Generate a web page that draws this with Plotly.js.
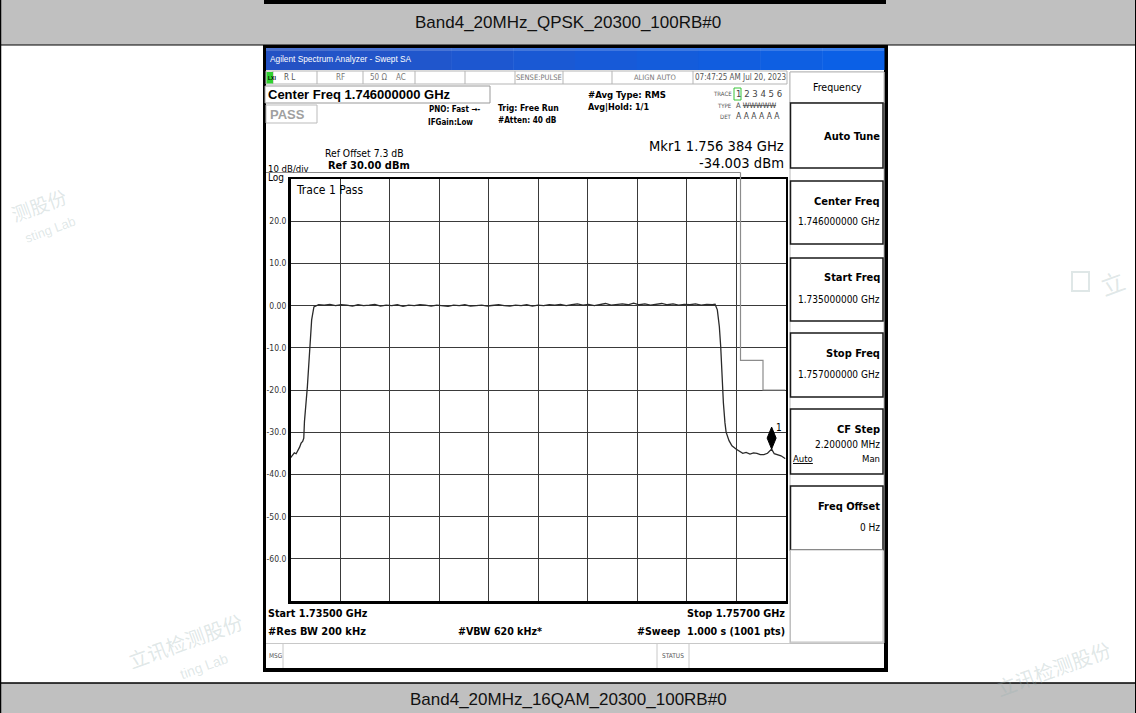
<!DOCTYPE html>
<html><head><meta charset="utf-8">
<script src="https://cdn.plot.ly/plotly-3.0.1.min.js"></script>
<style>html,body{margin:0;padding:0;background:#fff;overflow:hidden}#chart{width:1136px;height:713px}</style>
</head><body><div id="chart"></div>
<script>
const W = 1136, H = 713;

// ---------------- data ----------------
const captionTop = 'Band4_20MHz_QPSK_20300_100RB#0';
const captionBottom = 'Band4_20MHz_16QAM_20300_100RB#0';
const startFreqMHz = 1735, stopFreqMHz = 1757, divMHz = 2.2;
const refLevel = 30, bottomLevel = -70;
const traceFreqMHz = [
  1735.00, 1735.08, 1735.17, 1735.25, 1735.32, 1735.40, 1735.47, 1735.54, 1735.59, 1735.62, 1735.75, 1735.87, 1735.94, 1736.04,
  1736.25, 1736.50, 1736.75, 1737.00, 1737.25, 1737.50, 1737.75, 1738.00, 1738.25, 1738.50,
  1738.75, 1739.00, 1739.25, 1739.50, 1739.75, 1740.00, 1740.25, 1740.50, 1740.75, 1741.00,
  1741.25, 1741.50, 1741.75, 1742.00, 1742.25, 1742.50, 1742.75, 1743.00, 1743.25, 1743.50,
  1743.75, 1744.00, 1744.25, 1744.50, 1744.75, 1745.00, 1745.25, 1745.50, 1745.75, 1746.00,
  1746.25, 1746.50, 1746.75, 1747.00, 1747.25, 1747.50, 1747.75, 1748.00, 1748.25, 1748.50,
  1748.75, 1749.00, 1749.25, 1749.50, 1749.75, 1750.00, 1750.25, 1750.50, 1750.75, 1751.00,
  1751.25, 1751.50, 1751.75, 1752.00, 1752.25, 1752.50, 1752.75, 1753.00, 1753.25, 1753.50,
  1753.75, 1753.87, 1753.97, 1754.06, 1754.12, 1754.18, 1754.24, 1754.31, 1754.36, 1754.49,
  1754.62, 1754.80, 1754.95, 1755.10, 1755.25, 1755.42, 1755.58, 1755.73, 1755.88, 1756.04,
  1756.20, 1756.384, 1756.50, 1756.65, 1756.80, 1757.00
];
const traceLevelDbm = [
  -36.1, -35.4, -34.9, -35.1, -34.5, -33.6, -32.6, -32.2, -31.4, -27.5, -19.2, -9.7, -3.4, -0.3,
  0.2, 0.1, 0.3, 0.0, 0.2, 0.1, -0.1, 0.2, 0.0, 0.1,
  0.3, -0.1, 0.1, 0.0, 0.2, -0.2, 0.1, 0.0, 0.2, 0.1,
  -0.1, 0.1, 0.0, -0.2, 0.1, 0.0, 0.2, -0.1, 0.0, 0.1,
  -0.1, 0.0, 0.2, 0.0, -0.1, 0.1, 0.0, 0.2, -0.1, 0.1,
  0.0, 0.2, 0.1, 0.3, 0.0, 0.2, 0.4, 0.1, 0.3, 0.0,
  0.2, 0.5, 0.1, 0.3, 0.4, 0.2, 0.6, 0.2, 0.4, 0.1,
  0.3, 0.5, 0.2, 0.4, 0.1, 0.3, 0.2, 0.4, 0.1, 0.3,
  0.2, 0.3, -1.0, -5.0, -9.7, -16.8, -23.1, -27.8, -30.0, -32.0,
  -33.2, -34.0, -34.6, -35.0, -34.8, -35.2, -34.9, -35.0, -35.3, -35.3,
  -35.0, -34.003, -35.1, -35.4, -35.6, -36.3
];
const limitFreqMHz = [1755, 1755, 1756, 1756, 1757];
const limitLevelDbm = [31.7, -13, -13, -20, -20];
const markerFreqMHz = [1756.384];
const markerLevelDbm = [-34.003];
const yTickVals = [30, 20, 10, 0, -10, -20, -30, -40, -50, -60, -70];
const yTickText = ['', '20.0', '10.0', '0.00', '-10.0', '-20.0', '-30.0', '-40.0', '-50.0', '-60.0', ''];

// ---------------- helpers (pixel -> paper) ----------------
const PX = x => x / W, PY = y => 1 - y / H;
const shapes = [], ann = [];
function rect(x0, y0, x1, y1, fill, lc, lw, layer) {
  shapes.push({type: 'rect', xref: 'paper', yref: 'paper', x0: PX(x0), x1: PX(x1), y0: PY(y1), y1: PY(y0),
    fillcolor: fill || 'rgba(0,0,0,0)', line: {color: lc || 'rgba(0,0,0,0)', width: lw || 0}, layer: layer || 'below'});
}
function line(x0, y0, x1, y1, c, w, layer) {
  shapes.push({type: 'line', xref: 'paper', yref: 'paper', x0: PX(x0), x1: PX(x1), y0: PY(y0), y1: PY(y1),
    line: {color: c, width: w || 1}, layer: layer || 'below'});
}
const SANS = 'Liberation Sans, Arial, sans-serif';
const NARROW = 'DejaVu Sans Condensed, Liberation Sans, sans-serif';
function txt(x, y, s, size, o) {
  o = o || {};
  ann.push({xref: 'paper', yref: 'paper', x: PX(x), y: PY(y), text: o.bold ? '<b>' + s + '</b>' : s,
    showarrow: false, xanchor: o.a || 'left', yanchor: 'middle', textangle: o.rot || 0,
    font: {family: o.f || NARROW, size: size, color: o.c || '#000'}, borderpad: 0});
}

// ---------------- document table ----------------
rect(0, 0, W, 45, '#c0c0c0');
rect(264, 0, 886, 4, '#000');
line(0, 45, W, 45, '#000', 1);
rect(0, 683, W, H, '#c0c0c0');
line(0, 683, W, 683, '#000', 1.5);
line(0.5, 0, 0.5, H, '#000', 1.5);
line(W - 0.5, 0, W - 0.5, H, '#000', 1);
txt(568, 23, captionTop, 17, {a: 'center', f: SANS, c: '#111'});
txt(568, 699, captionBottom, 17, {a: 'center', f: SANS, c: '#111'});

// watermarks (faint)
const wm = 'rgba(150,175,175,0.30)';
txt(6, 204, '测股份', 19, {f: 'Noto Sans CJK SC', c: wm, rot: -20});
txt(22, 230, 'sting Lab', 13, {f: SANS, c: wm, rot: -20});
txt(248, 640, '立讯检测股份', 20, {a: 'right', f: 'Noto Sans CJK SC', c: wm, rot: -20});
txt(232, 666, 'ting Lab', 14, {a: 'right', f: SANS, c: wm, rot: -20});
txt(1093, 282, '立', 24, {f: 'Noto Sans CJK SC', c: wm, rot: -20});
rect(1072, 272, 1089, 291, 'rgba(0,0,0,0)', wm, 2);
txt(990, 668, '立讯检测股份', 20, {f: 'Noto Sans CJK SC', c: wm, rot: -20});

// ---------------- analyzer window ----------------
rect(263, 45, 888, 672, '#000');
rect(266, 48, 884, 668, '#fff');
const blues = ['#2452c4', '#2254c8', '#2056cc', '#1d57d0', '#1a59d4', '#175ad8', '#145cdb', '#115ddf', '#0e5fe2', '#0b60e6'];
for (let i = 0; i < blues.length; i++) rect(266 + i * 61.8, 48, 266 + (i + 1) * 61.8 + 0.5, 70, blues[i]);
rect(266, 48, 884, 51, 'rgba(255,255,255,0.18)');
txt(269, 59, 'Agilent Spectrum Analyzer - Swept SA', 8.3, {c: '#fff', f: SANS});
// status row
rect(266, 71, 787, 84, '#fff', '#b5b5b5', 1);
[273, 317, 363, 415, 465, 515, 563, 612, 693].forEach(x => line(x, 71, x, 84, '#b5b5b5', 1));
rect(266.5, 72, 273, 83.5, '#2fd12f');
txt(266.5, 78, 'LXI', 5, {c: '#000', f: SANS, bold: true});
txt(283, 78, 'R L', 8, {c: '#555'});
txt(340, 78, 'RF', 8, {c: '#777', a: 'center'});
txt(369, 78, '50 Ω&nbsp;&nbsp;&nbsp;&nbsp;AC', 8, {c: '#777'});
txt(539, 78, 'SENSE:PULSE', 7.5, {c: '#777', a: 'center'});
txt(655, 78, 'ALIGN AUTO', 7.5, {c: '#777', a: 'center'});
txt(740, 78, '07:47:25 AM Jul 20, 2023', 8, {c: '#555', a: 'center'});
// Center freq & pass
rect(265, 86, 490, 103, '#fff', '#999', 1);
txt(267, 95, 'Center Freq 1.746000000 GHz', 13, {bold: true, f: SANS});
rect(266, 105, 317, 123, '#fff', '#bbb', 1);
txt(269, 114, 'PASS', 13, {bold: true, c: '#a0a0a0', f: SANS});
txt(481, 109, 'PNO: Fast →-', 8, {bold: true, a: 'right'});
txt(427, 122, 'IFGain:Low', 8, {bold: true});
txt(497, 108, 'Trig: Free Run', 8.6, {bold: true});
txt(497, 120, '#Atten: 40 dB', 8.2, {bold: true});
txt(587, 95, '#Avg Type: RMS', 9.5, {bold: true});
txt(587, 107, 'Avg|Hold: 1/1', 9, {bold: true});
txt(733, 94, 'TRACE', 6, {c: '#555', a: 'right'});
txt(733, 105, 'TYPE', 6, {c: '#555', a: 'right'});
txt(733, 116, 'DET', 6, {c: '#555', a: 'right'});
rect(734, 88, 741, 100, 'rgba(0,0,0,0)', '#39c439', 1);
txt(735, 94, '1 2 3 4 5 6', 9.5, {c: '#444'});
txt(735, 105, 'A <s>WWWWW</s>', 7.5, {c: '#444'});
txt(735, 116, 'A A A A A A', 8.5, {c: '#444'});
txt(785, 145, 'Mkr1 1.756 384 GHz', 14.6, {a: 'right'});
txt(785, 163, '-34.003 dBm', 14.6, {a: 'right'});
txt(324, 153, 'Ref Offset 7.3 dB', 10.3);
txt(267, 168, '10 dB/div', 9.5);
txt(327, 166, 'Ref 30.00 dBm', 11, {bold: true});
txt(267, 177, 'Log', 10);
// limit line part above the graticule
line(266, 172.5, 740.5, 172.5, '#8c8c8c', 1.2, 'above');
line(740.5, 172.5, 740.5, 180, '#8c8c8c', 1.2, 'above');
txt(295, 190, 'Trace 1 Pass', 12);
// bottom annotations
txt(267, 613, 'Start 1.73500 GHz', 10.7, {bold: true});
txt(786, 613, 'Stop 1.75700 GHz', 10.8, {bold: true, a: 'right'});
txt(267, 631, '#Res BW 200 kHz', 11, {bold: true});
txt(457, 631, '#VBW 620 kHz*', 10.6, {bold: true});
txt(786, 631, '#Sweep&nbsp;&nbsp;1.000 s (1001 pts)', 10.6, {bold: true, a: 'right'});
// MSG bar
line(266, 643.5, 884, 643.5, '#c8c8c8', 1);
line(283, 644, 283, 668, '#c8c8c8', 1);
line(657, 644, 657, 668, '#c8c8c8', 1);
line(689, 644, 689, 668, '#c8c8c8', 1);
txt(268, 656, 'MSG', 6.5, {c: '#555'});
txt(673, 656, 'STATUS', 6.5, {c: '#555', a: 'center'});

// ---------------- softkey panel ----------------
rect(790, 72, 884, 643, '#fff', '#b8b8b8', 1);
rect(790, 72, 884, 103, '#fff', '#b8b8b8', 1);
txt(837, 87, 'Frequency', 10.5, {a: 'center'});
const keys = [
  [103, 168, 'Auto Tune', null],
  [181, 244, 'Center Freq', '1.746000000 GHz'],
  [258, 321, 'Start Freq', '1.735000000 GHz'],
  [333, 397, 'Stop Freq', '1.757000000 GHz'],
  [409, 474, 'CF Step', '2.200000 MHz'],
  [486, 550, 'Freq Offset', '0 Hz']
];
keys.forEach(k => {
  rect(790.5, k[0], 883, k[1], '#fff', '#1a1a1a', 1.5);
  if (k[3] === null) { txt(881, 136, k[2], 11, {bold: true, a: 'right'}); }
  else {
    txt(881, k[0] + 20, k[2], 11, {bold: true, a: 'right'});
    txt(881, k[0] + (k[2] === 'CF Step' ? 35 : 41), k[3], 10, {a: 'right'});
  }
});
txt(792, 459, '<u>Auto</u>', 9.5);
txt(881, 459, 'Man', 9.5, {a: 'right'});
rect(790.5, 550, 883, 642, '#fff', '#c0c0c0', 1);

// marker diamond (anchored to the marker's data position)
shapes.push({type: 'path', xref: 'x', yref: 'y', xsizemode: 'pixel', ysizemode: 'pixel',
  xanchor: markerFreqMHz[0], yanchor: markerLevelDbm[0],
  path: 'M0,0 L4.5,11 L0,22 L-4.5,11 Z', fillcolor: '#000', line: {color: '#000', width: 1}, layer: 'above'});
ann.push({xref: 'x', yref: 'y', x: markerFreqMHz[0], y: markerLevelDbm[0], text: '1', showarrow: false,
  xshift: 7, yshift: 22, font: {family: NARROW, size: 10, color: '#000'}});

// ---------------- traces ----------------
const data = [
  {type: 'scatter', mode: 'lines', x: limitFreqMHz, y: limitLevelDbm, line: {color: '#8c8c8c', width: 1.2}, hoverinfo: 'skip'},
  {type: 'scatter', mode: 'lines', x: traceFreqMHz, y: traceLevelDbm, line: {color: '#2a2a2a', width: 1.3}, hoverinfo: 'skip'}
];

const layout = {
  width: W, height: H, margin: {l: 0, r: 0, t: 0, b: 0},
  paper_bgcolor: '#fff', plot_bgcolor: 'rgba(0,0,0,0)', showlegend: false,
  xaxis: {domain: [290.5 / W, 785.5 / W], range: [startFreqMHz, stopFreqMHz], tick0: startFreqMHz, dtick: divMHz,
    showticklabels: false, ticks: '', showgrid: true, gridcolor: '#3a3a3a', gridwidth: 1, zeroline: false,
    showline: true, mirror: true, linecolor: '#000', linewidth: 2.5, fixedrange: true},
  yaxis: {domain: [1 - 601 / H, 1 - 179 / H], range: [bottomLevel, refLevel], tickmode: 'array',
    tickvals: yTickVals, ticktext: yTickText, ticks: '', showgrid: true, gridcolor: '#3a3a3a', gridwidth: 1,
    zeroline: false, showline: true, mirror: true, linecolor: '#000', linewidth: 2.5, fixedrange: true,
    tickfont: {family: NARROW, size: 8.5, color: '#333'}},
  shapes: shapes, annotations: ann
};
Plotly.newPlot('chart', data, layout, {staticPlot: true, displayModeBar: false});
</script></body></html>
